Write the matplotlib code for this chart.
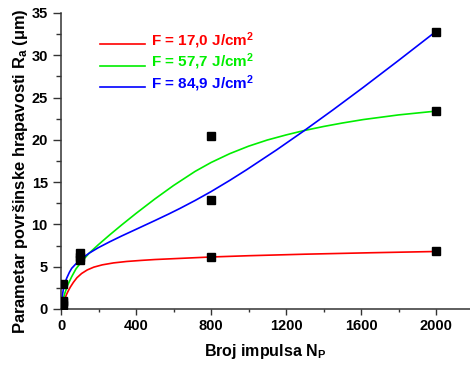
import matplotlib
matplotlib.use("Agg")
import matplotlib.pyplot as plt
from matplotlib.ticker import MultipleLocator

plt.rcParams['font.family'] = ['Liberation Sans', 'DejaVu Sans']
plt.rcParams['font.weight'] = 'bold'
plt.rcParams['mathtext.fontset'] = 'custom'
plt.rcParams['mathtext.rm'] = 'Liberation Sans:bold'
plt.rcParams['mathtext.bf'] = 'Liberation Sans:bold'
plt.rcParams['mathtext.it'] = 'Liberation Sans:bold'
plt.rcParams['mathtext.default'] = 'bf'

# Measured roughness (all fluences), number of pulses vs Ra
meas_n = [10, 10, 10, 10, 100, 100, 100, 800, 800, 800, 2000, 2000, 2000]
meas_ra = [0.5, 0.8, 1.0, 3.0, 6.6, 6.2, 5.8, 20.4, 12.9, 6.15, 23.4, 32.8, 6.8]

# Fitted curves for each fluence
red_fit_n = [13, 21, 30, 40, 50, 66, 85, 110, 140, 175, 220, 280, 350, 430, 501,
             650, 800, 1000, 1300, 1650, 2000]
red_fit_y = [0.7, 1.25, 1.75, 2.2, 2.6, 3.15, 3.7, 4.2, 4.62, 4.95, 5.22, 5.45, 5.62, 5.75, 5.85,
             6.0, 6.15, 6.3, 6.48, 6.65, 6.8]

green_fit_n = [11, 21, 35, 57, 80, 110, 150, 199, 260, 323, 400, 501, 600, 715, 800,
               900, 1000, 1100, 1200, 1292, 1400, 1500, 1612, 1800, 2000]
green_fit_y = [1.1, 1.9, 2.8, 3.82, 4.75, 5.6, 6.6, 7.6, 8.77, 9.93, 11.3, 13.02, 14.6, 16.27, 17.32,
               18.37, 19.25, 19.98, 20.58, 21.08, 21.58, 21.99, 22.4, 22.95, 23.4]

blue_fit_n = [5, 8, 12, 20, 30, 45, 57, 80, 110, 150, 199, 260, 323, 400, 501, 575, 635,
              715, 800, 900, 990, 1150, 1292, 1450, 1612, 1800, 2000]
blue_fit_y = [1.1, 1.7, 2.25, 3.0, 3.63, 4.35, 4.81, 5.35, 5.95, 6.6, 7.25, 7.95, 8.63, 9.42, 10.46, 11.24, 11.9,
              12.83, 13.88, 15.21, 16.47, 18.82, 21.01, 23.54, 26.21, 29.39, 32.83]

series = [
    (red_fit_n, red_fit_y, '#ff0000', 'F = 17,0 J/cm$^{2}$'),
    (green_fit_n, green_fit_y, '#00ee00', 'F = 57,7 J/cm$^{2}$'),
    (blue_fit_n, blue_fit_y, '#0000ff', 'F = 84,9 J/cm$^{2}$'),
]

fig = plt.figure(figsize=(4.70, 3.65), dpi=100)
ax = fig.add_axes([61 / 470, 56 / 365, 409 / 470, 296 / 365])

for n, y, color, label in series:
    ax.plot(n, y, color=color, lw=1.2, zorder=2, solid_joinstyle='round')

ax.plot(meas_n, meas_ra, ls='none', marker='s', ms=5.2, color='black', zorder=3)

# Legend drawn as line samples with coloured text
leg_y = [0.895, 0.822, 0.749]
for (n, y, color, label), ly in zip(series, leg_y):
    ax.plot([0.095, 0.205], [ly, ly], transform=ax.transAxes, color=color, lw=1.2, clip_on=False)
    ax.text(0.22, ly - 0.004, label, transform=ax.transAxes, color=color,
            fontsize=11, fontweight='bold', ha='left', va='baseline')

ax.set_xlim(0, 2181)
ax.set_ylim(0, 35)
ax.xaxis.set_major_locator(MultipleLocator(400))
ax.xaxis.set_minor_locator(MultipleLocator(200))
ax.yaxis.set_major_locator(MultipleLocator(5))
ax.yaxis.set_minor_locator(MultipleLocator(2.5))

for s in ['top', 'right']:
    ax.spines[s].set_visible(False)
for s in ['left', 'bottom']:
    ax.spines[s].set_color('#333333')
    ax.spines[s].set_linewidth(1.1)

ax.tick_params(axis='both', which='major', direction='out', labelsize=10.5, color='#333333', width=1.0)
ax.tick_params(axis='y', which='major', length=6)
ax.tick_params(axis='y', which='minor', length=3.5, color='#333333', width=1.0)
ax.tick_params(axis='x', which='major', length=4)
ax.tick_params(axis='x', which='minor', length=2.5, color='#333333', width=1.0)
for lab in ax.get_xticklabels() + ax.get_yticklabels():
    lab.set_fontweight('bold')

ax.set_xlabel('Broj impulsa N$_{P}$', fontsize=11.5, fontweight='bold', labelpad=6)
ax.set_ylabel('Parametar površinske hrapavosti R$_{a}$ (μm)', fontsize=11.9, fontweight='bold')
ax.yaxis.set_label_coords(-0.076, 0.465)

fig.savefig('out.png', dpi=100)
